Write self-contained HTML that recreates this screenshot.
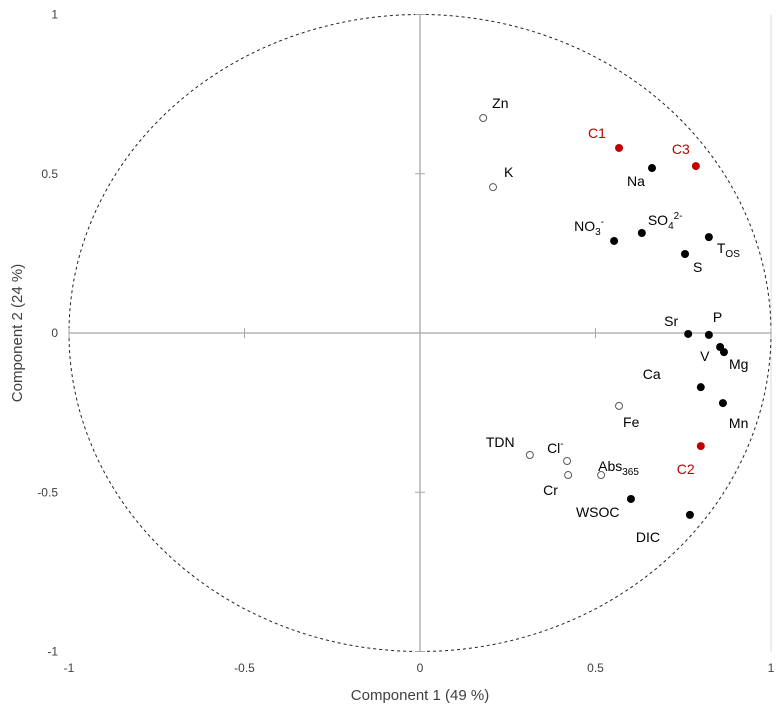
<!DOCTYPE html>
<html><head><meta charset="utf-8"><style>
body{margin:0;background:#fff;}
svg{display:block;font-family:"Liberation Sans",sans-serif;}
</style></head><body>
<svg id="chart" width="784" height="715">
<g id="axes"></g><g id="marks"></g>
</svg>
<script>
const names=["Zn","K","C1","C3","Na","SO4","NO3","Tos","S","Sr","P","V","Mg","Ca","Mn","Fe","C2","TDN","Cl","Cr","Abs365","WSOC","DIC"];
const comp1=[0.18,0.208,0.567,0.786,0.661,0.632,0.553,0.823,0.755,0.764,0.823,0.855,0.866,0.80,0.863,0.567,0.80,0.313,0.419,0.422,0.516,0.601,0.769];
const comp2=[0.675,0.458,0.581,0.524,0.518,0.314,0.289,0.301,0.248,-0.003,-0.006,-0.044,-0.06,-0.17,-0.22,-0.229,-0.355,-0.383,-0.402,-0.446,-0.446,-0.521,-0.571];
const kinds=["open","open","red","red","fill","fill","fill","fill","fill","fill","fill","fill","fill","fill","fill","open","red","open","open","open","open","fill","fill"];
const ticks=[-1,-0.5,0,0.5,1];
const tickLabels=["-1","-0.5","0","0.5","1"];
// label offsets (styling)
const off={Zn:[9,-10],K:[11,-10],C1:[-31,-10],C3:[-24,-12],Na:[-25,18],SO4:[6,-8],NO3:[-40,-10],Tos:[8,16],S:[8,18],Sr:[-24,-8],P:[4,-13],V:[-20,14],Mg:[5,17],Ca:[-58,-8],Mn:[6,25],Fe:[4,21],C2:[-24,28],TDN:[-44,-8],Cl:[-20,-8],Cr:[-25,20],Abs365:[-3,-4],WSOC:[-55,18],DIC:[-54,27]};
const labelHTML={SO4:'SO<tspan dy="4" font-size="10">4</tspan><tspan dy="-10" font-size="10">2-</tspan>',NO3:'NO<tspan dy="4" font-size="10">3</tspan><tspan dy="-10" font-size="10">-</tspan>',Tos:'T<tspan dy="4" font-size="10">OS</tspan>',Cl:'Cl<tspan dy="-6" font-size="10">-</tspan>',Abs365:'Abs<tspan dy="4" font-size="10">365</tspan>'};
const X=v=>420+v*351, Y=v=>333-v*318.5;
const NS="http://www.w3.org/2000/svg";
const ax=document.getElementById('axes'), mk=document.getElementById('marks');
function mkEl(t,a,p){const e=document.createElementNS(NS,t);for(const k in a)e.setAttribute(k,a[k]);p.appendChild(e);return e;}
let e;
e=mkEl('line',{x1:771,y1:15,x2:771,y2:652,stroke:'#d9d9d9'},ax);


e=mkEl('line',{x1:X(-1),y1:Y(0),x2:X(1),y2:Y(0),stroke:'#a6a6a6','stroke-width':1.3},ax);


e=mkEl('line',{x1:X(0),y1:Y(1),x2:X(0),y2:Y(-1),stroke:'#a6a6a6','stroke-width':1.3},ax);


e=mkEl('ellipse',{cx:X(0),cy:Y(0),rx:351,ry:318.5,fill:'none',stroke:'#222','stroke-dasharray':'3,3','stroke-width':1},ax);


ticks.forEach((t,i)=>{
 e=mkEl('line',{x1:X(t),y1:Y(0)-5,x2:X(t),y2:Y(0)+5,stroke:'#a6a6a6'},ax);
 
 
 e=mkEl('line',{x1:X(0)-5,y1:Y(t),x2:X(0)+5,y2:Y(t),stroke:'#a6a6a6'},ax);
 
 
 e=mkEl('text',{x:X(t),y:672,'text-anchor':'middle','font-size':12,fill:'#404040'},ax);e.textContent=tickLabels[i];
 
 
 e=mkEl('text',{x:58,y:Y(t)+4,'text-anchor':'end','font-size':12,fill:'#404040'},ax);e.textContent=tickLabels[i];
 
 
});
e=mkEl('text',{x:420,y:700,'text-anchor':'middle','font-size':15,fill:'#404040'},ax);e.textContent='Component 1 (49 %)';


e=mkEl('text',{x:22,y:333,'text-anchor':'middle','font-size':15,fill:'#404040',transform:'rotate(-90 22 333)'},ax);e.textContent='Component 2 (24 %)';


names.forEach((n,i)=>{
 const cx=X(comp1[i]),cy=Y(comp2[i]),k=kinds[i];
 e=mkEl('circle',{cx,cy,r:k=='open'?3.5:4,fill:k=='open'?'#fff':(k=='red'?'#c00000':'#000'),stroke:k=='open'?'#595959':'none','stroke-width':1},mk);
 
 
 const o=off[n];
 e=mkEl('text',{x:cx+o[0],y:cy+o[1],'font-size':14,fill:k=='red'?'#c00000':'#000'},mk);
 if(labelHTML[n])e.innerHTML=labelHTML[n];else e.textContent=n;
 
 
});
</script>
</body></html>
